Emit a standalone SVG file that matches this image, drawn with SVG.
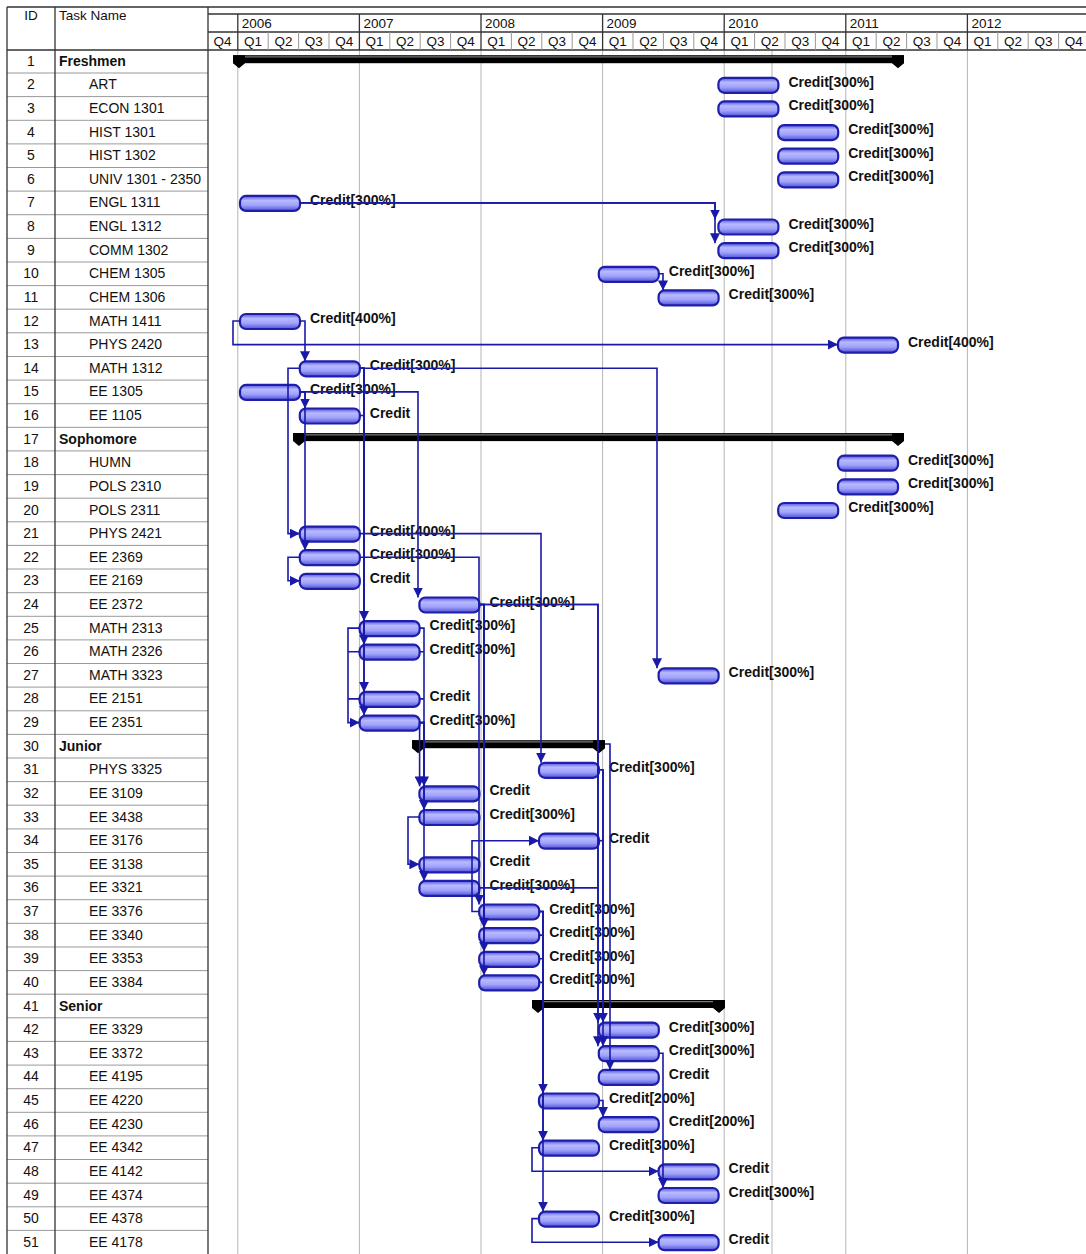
<svg xmlns="http://www.w3.org/2000/svg" width="1086" height="1254" viewBox="0 0 1086 1254">
<defs>
<linearGradient id="bg" x1="0" y1="0" x2="0" y2="1">
<stop offset="0" stop-color="#5252dc"/>
<stop offset="0.3" stop-color="#b8baff"/>
<stop offset="0.62" stop-color="#a0a3fa"/>
<stop offset="1" stop-color="#5050da"/>
</linearGradient>
<marker id="arr" markerUnits="userSpaceOnUse" markerWidth="10" markerHeight="10" viewBox="0 0 10 10" refX="10" refY="5" orient="auto">
<path d="M0,0 L10,5 L0,10 z" fill="#1a1aa8"/>
</marker>
<style>
text{font-family:"Liberation Sans",Arial,sans-serif;fill:#111}
.id{font-size:14px;text-anchor:middle}
.nm{font-size:14px}
.sm{font-size:14px;font-weight:bold}
.hd{font-size:13.5px}
.q{font-size:13.5px;text-anchor:middle}
.lbl{font-size:14px;font-weight:bold}
.bar{fill:url(#bg);stroke:#1e1eaa;stroke-width:2.2}
.sb{fill:#000}
.sh{stroke:#777;stroke-width:1.2}
.grid{stroke:#b4b4b4;stroke-width:1;fill:none}
.tl{stroke:#999;stroke-width:1;fill:none}
.tb{stroke:#333;stroke-width:1.3;fill:none}
.conn path{fill:none;stroke:#1a1aa8;stroke-width:1.6}
.conn path.a{marker-end:url(#arr)}
</style>
</defs>
<rect width="1086" height="1254" fill="#fff"/>

<g id="chart-grid">
<path class="grid" d="M237.8,50V1254M359.4,50V1254M481,50V1254M602.6,50V1254M724.2,50V1254M845.8,50V1254M967.4,50V1254M772,50V1254"/>
</g>

<g id="table-grid">
<path class="tl" d="M7,73H208M7,96.6H208M7,120.3H208M7,143.9H208M7,167.5H208M7,191.1H208M7,214.7H208M7,238.4H208M7,262H208M7,285.6H208M7,309.2H208M7,332.8H208M7,356.5H208M7,380.1H208M7,403.7H208M7,427.3H208M7,450.9H208M7,474.6H208M7,498.2H208M7,521.8H208M7,545.4H208M7,569H208M7,592.7H208M7,616.3H208M7,639.9H208M7,663.5H208M7,687.1H208M7,710.8H208M7,734.4H208M7,758H208M7,781.6H208M7,805.2H208M7,828.9H208M7,852.5H208M7,876.1H208M7,899.7H208M7,923.3H208M7,947H208M7,970.6H208M7,994.2H208M7,1017.8H208M7,1041.4H208M7,1065.1H208M7,1088.7H208M7,1112.3H208M7,1135.9H208M7,1159.5H208M7,1183.2H208M7,1206.8H208M7,1230.4H208"/>
<path class="tb" d="M7,7V1254M55,7V1254M208,7V1254M7,7H1086M7,50H1086M208,14H1086M208,32H1086"/>
</g>

<g id="header">
<text class="hd" x="31" y="20" text-anchor="middle">ID</text>
<text class="hd" x="59" y="20">Task Name</text>
<path class="tb" d="M237.8,14V50M359.4,14V50M481,14V50M602.6,14V50M724.2,14V50M845.8,14V50M967.4,14V50"/>
<path class="tl" stroke="#333" d="M268.2,32V50M298.6,32V50M329,32V50M389.8,32V50M420.2,32V50M450.6,32V50M511.4,32V50M541.8,32V50M572.2,32V50M633,32V50M663.4,32V50M693.8,32V50M754.6,32V50M785,32V50M815.4,32V50M876.2,32V50M906.6,32V50M937,32V50M997.8,32V50M1028.2,32V50M1058.6,32V50"/>
<text class="hd" x="241.8" y="28">2006</text>
<text class="hd" x="363.4" y="28">2007</text>
<text class="hd" x="485" y="28">2008</text>
<text class="hd" x="606.6" y="28">2009</text>
<text class="hd" x="728.2" y="28">2010</text>
<text class="hd" x="849.8" y="28">2011</text>
<text class="hd" x="971.4" y="28">2012</text>
<text class="q" x="222.6" y="46">Q4</text>
<text class="q" x="253" y="46">Q1</text><text class="q" x="283.4" y="46">Q2</text><text class="q" x="313.8" y="46">Q3</text><text class="q" x="344.2" y="46">Q4</text>
<text class="q" x="374.6" y="46">Q1</text><text class="q" x="405" y="46">Q2</text><text class="q" x="435.4" y="46">Q3</text><text class="q" x="465.8" y="46">Q4</text>
<text class="q" x="496.2" y="46">Q1</text><text class="q" x="526.6" y="46">Q2</text><text class="q" x="557" y="46">Q3</text><text class="q" x="587.4" y="46">Q4</text>
<text class="q" x="617.8" y="46">Q1</text><text class="q" x="648.2" y="46">Q2</text><text class="q" x="678.6" y="46">Q3</text><text class="q" x="709" y="46">Q4</text>
<text class="q" x="739.4" y="46">Q1</text><text class="q" x="769.8" y="46">Q2</text><text class="q" x="800.2" y="46">Q3</text><text class="q" x="830.6" y="46">Q4</text>
<text class="q" x="861" y="46">Q1</text><text class="q" x="891.4" y="46">Q2</text><text class="q" x="921.8" y="46">Q3</text><text class="q" x="952.2" y="46">Q4</text>
<text class="q" x="982.6" y="46">Q1</text><text class="q" x="1013" y="46">Q2</text><text class="q" x="1043.4" y="46">Q3</text><text class="q" x="1073.8" y="46">Q4</text>
</g>

<g id="task-1" transform="translate(0,61.2)"><text class="id" y="4.5" x="31">1</text><text class="sm" x="59" y="4.5">Freshmen</text>
<rect class="sb" x="233" y="-6" width="671" height="8"/><path class="sh" d="M245,-4.3H892"/><path class="sb" d="M233,-6H245V2L239,7L233,2z M892,-6H904V2L898,7L892,2z"/></g>
<g id="task-2" transform="translate(0,84.8)"><text class="id" y="4.5" x="31">2</text><text class="nm" x="89" y="4.5">ART</text><rect class="bar" x="718.4" y="-7" width="60" height="15" rx="6"/><text class="lbl" x="788.4" y="2">Credit[300%]</text></g>
<g id="task-3" transform="translate(0,108.4)"><text class="id" y="4.5" x="31">3</text><text class="nm" x="89" y="4.5">ECON 1301</text><rect class="bar" x="718.4" y="-7" width="60" height="15" rx="6"/><text class="lbl" x="788.4" y="2">Credit[300%]</text></g>
<g id="task-4" transform="translate(0,132.1)"><text class="id" y="4.5" x="31">4</text><text class="nm" x="89" y="4.5">HIST 1301</text><rect class="bar" x="778.2" y="-7" width="60" height="15" rx="6"/><text class="lbl" x="848.2" y="2">Credit[300%]</text></g>
<g id="task-5" transform="translate(0,155.7)"><text class="id" y="4.5" x="31">5</text><text class="nm" x="89" y="4.5">HIST 1302</text><rect class="bar" x="778.2" y="-7" width="60" height="15" rx="6"/><text class="lbl" x="848.2" y="2">Credit[300%]</text></g>
<g id="task-6" transform="translate(0,179.3)"><text class="id" y="4.5" x="31">6</text><text class="nm" x="89" y="4.5">UNIV 1301 - 2350</text><rect class="bar" x="778.2" y="-7" width="60" height="15" rx="6"/><text class="lbl" x="848.2" y="2">Credit[300%]</text></g>
<g id="task-7" transform="translate(0,202.9)"><text class="id" y="4.5" x="31">7</text><text class="nm" x="89" y="4.5">ENGL 1311</text><rect class="bar" x="240" y="-7" width="60" height="15" rx="6"/><text class="lbl" x="310" y="2">Credit[300%]</text></g>
<g id="task-8" transform="translate(0,226.5)"><text class="id" y="4.5" x="31">8</text><text class="nm" x="89" y="4.5">ENGL 1312</text><rect class="bar" x="718.4" y="-7" width="60" height="15" rx="6"/><text class="lbl" x="788.4" y="2">Credit[300%]</text></g>
<g id="task-9" transform="translate(0,250.2)"><text class="id" y="4.5" x="31">9</text><text class="nm" x="89" y="4.5">COMM 1302</text><rect class="bar" x="718.4" y="-7" width="60" height="15" rx="6"/><text class="lbl" x="788.4" y="2">Credit[300%]</text></g>
<g id="task-10" transform="translate(0,273.8)"><text class="id" y="4.5" x="31">10</text><text class="nm" x="89" y="4.5">CHEM 1305</text><rect class="bar" x="598.8" y="-7" width="60" height="15" rx="6"/><text class="lbl" x="668.8" y="2">Credit[300%]</text></g>
<g id="task-11" transform="translate(0,297.4)"><text class="id" y="4.5" x="31">11</text><text class="nm" x="89" y="4.5">CHEM 1306</text><rect class="bar" x="658.6" y="-7" width="60" height="15" rx="6"/><text class="lbl" x="728.6" y="2">Credit[300%]</text></g>
<g id="task-12" transform="translate(0,321)"><text class="id" y="4.5" x="31">12</text><text class="nm" x="89" y="4.5">MATH 1411</text><rect class="bar" x="240" y="-7" width="60" height="15" rx="6"/><text class="lbl" x="310" y="2">Credit[400%]</text></g>
<g id="task-13" transform="translate(0,344.6)"><text class="id" y="4.5" x="31">13</text><text class="nm" x="89" y="4.5">PHYS 2420</text><rect class="bar" x="838" y="-7" width="60" height="15" rx="6"/><text class="lbl" x="908" y="2">Credit[400%]</text></g>
<g id="task-14" transform="translate(0,368.3)"><text class="id" y="4.5" x="31">14</text><text class="nm" x="89" y="4.5">MATH 1312</text><rect class="bar" x="299.8" y="-7" width="60" height="15" rx="6"/><text class="lbl" x="369.8" y="2">Credit[300%]</text></g>
<g id="task-15" transform="translate(0,391.9)"><text class="id" y="4.5" x="31">15</text><text class="nm" x="89" y="4.5">EE 1305</text><rect class="bar" x="240" y="-7" width="60" height="15" rx="6"/><text class="lbl" x="310" y="2">Credit[300%]</text></g>
<g id="task-16" transform="translate(0,415.5)"><text class="id" y="4.5" x="31">16</text><text class="nm" x="89" y="4.5">EE 1105</text><rect class="bar" x="299.8" y="-7" width="60" height="15" rx="6"/><text class="lbl" x="369.8" y="2">Credit</text></g>
<g id="task-17" transform="translate(0,439.1)"><text class="id" y="4.5" x="31">17</text><text class="sm" x="59" y="4.5">Sophomore</text>
<rect class="sb" x="293" y="-6" width="611" height="8"/><path class="sh" d="M305,-4.3H892"/><path class="sb" d="M293,-6H305V2L299,7L293,2z M892,-6H904V2L898,7L892,2z"/></g>
<g id="task-18" transform="translate(0,462.7)"><text class="id" y="4.5" x="31">18</text><text class="nm" x="89" y="4.5">HUMN</text><rect class="bar" x="838" y="-7" width="60" height="15" rx="6"/><text class="lbl" x="908" y="2">Credit[300%]</text></g>
<g id="task-19" transform="translate(0,486.4)"><text class="id" y="4.5" x="31">19</text><text class="nm" x="89" y="4.5">POLS 2310</text><rect class="bar" x="838" y="-7" width="60" height="15" rx="6"/><text class="lbl" x="908" y="2">Credit[300%]</text></g>
<g id="task-20" transform="translate(0,510)"><text class="id" y="4.5" x="31">20</text><text class="nm" x="89" y="4.5">POLS 2311</text><rect class="bar" x="778.2" y="-7" width="60" height="15" rx="6"/><text class="lbl" x="848.2" y="2">Credit[300%]</text></g>
<g id="task-21" transform="translate(0,533.6)"><text class="id" y="4.5" x="31">21</text><text class="nm" x="89" y="4.5">PHYS 2421</text><rect class="bar" x="299.8" y="-7" width="60" height="15" rx="6"/><text class="lbl" x="369.8" y="2">Credit[400%]</text></g>
<g id="task-22" transform="translate(0,557.2)"><text class="id" y="4.5" x="31">22</text><text class="nm" x="89" y="4.5">EE 2369</text><rect class="bar" x="299.8" y="-7" width="60" height="15" rx="6"/><text class="lbl" x="369.8" y="2">Credit[300%]</text></g>
<g id="task-23" transform="translate(0,580.8)"><text class="id" y="4.5" x="31">23</text><text class="nm" x="89" y="4.5">EE 2169</text><rect class="bar" x="299.8" y="-7" width="60" height="15" rx="6"/><text class="lbl" x="369.8" y="2">Credit</text></g>
<g id="task-24" transform="translate(0,604.5)"><text class="id" y="4.5" x="31">24</text><text class="nm" x="89" y="4.5">EE 2372</text><rect class="bar" x="419.4" y="-7" width="60" height="15" rx="6"/><text class="lbl" x="489.4" y="2">Credit[300%]</text></g>
<g id="task-25" transform="translate(0,628.1)"><text class="id" y="4.5" x="31">25</text><text class="nm" x="89" y="4.5">MATH 2313</text><rect class="bar" x="359.6" y="-7" width="60" height="15" rx="6"/><text class="lbl" x="429.6" y="2">Credit[300%]</text></g>
<g id="task-26" transform="translate(0,651.7)"><text class="id" y="4.5" x="31">26</text><text class="nm" x="89" y="4.5">MATH 2326</text><rect class="bar" x="359.6" y="-7" width="60" height="15" rx="6"/><text class="lbl" x="429.6" y="2">Credit[300%]</text></g>
<g id="task-27" transform="translate(0,675.3)"><text class="id" y="4.5" x="31">27</text><text class="nm" x="89" y="4.5">MATH 3323</text><rect class="bar" x="658.6" y="-7" width="60" height="15" rx="6"/><text class="lbl" x="728.6" y="2">Credit[300%]</text></g>
<g id="task-28" transform="translate(0,698.9)"><text class="id" y="4.5" x="31">28</text><text class="nm" x="89" y="4.5">EE 2151</text><rect class="bar" x="359.6" y="-7" width="60" height="15" rx="6"/><text class="lbl" x="429.6" y="2">Credit</text></g>
<g id="task-29" transform="translate(0,722.6)"><text class="id" y="4.5" x="31">29</text><text class="nm" x="89" y="4.5">EE 2351</text><rect class="bar" x="359.6" y="-7" width="60" height="15" rx="6"/><text class="lbl" x="429.6" y="2">Credit[300%]</text></g>
<g id="task-30" transform="translate(0,746.2)"><text class="id" y="4.5" x="31">30</text><text class="sm" x="59" y="4.5">Junior</text>
<rect class="sb" x="412" y="-6" width="193" height="8"/><path class="sh" d="M424,-4.3H593"/><path class="sb" d="M412,-6H424V2L418,7L412,2z M593,-6H605V2L599,7L593,2z"/></g>
<g id="task-31" transform="translate(0,769.8)"><text class="id" y="4.5" x="31">31</text><text class="nm" x="89" y="4.5">PHYS 3325</text><rect class="bar" x="539" y="-7" width="60" height="15" rx="6"/><text class="lbl" x="609" y="2">Credit[300%]</text></g>
<g id="task-32" transform="translate(0,793.4)"><text class="id" y="4.5" x="31">32</text><text class="nm" x="89" y="4.5">EE 3109</text><rect class="bar" x="419.4" y="-7" width="60" height="15" rx="6"/><text class="lbl" x="489.4" y="2">Credit</text></g>
<g id="task-33" transform="translate(0,817)"><text class="id" y="4.5" x="31">33</text><text class="nm" x="89" y="4.5">EE 3438</text><rect class="bar" x="419.4" y="-7" width="60" height="15" rx="6"/><text class="lbl" x="489.4" y="2">Credit[300%]</text></g>
<g id="task-34" transform="translate(0,840.7)"><text class="id" y="4.5" x="31">34</text><text class="nm" x="89" y="4.5">EE 3176</text><rect class="bar" x="539" y="-7" width="60" height="15" rx="6"/><text class="lbl" x="609" y="2">Credit</text></g>
<g id="task-35" transform="translate(0,864.3)"><text class="id" y="4.5" x="31">35</text><text class="nm" x="89" y="4.5">EE 3138</text><rect class="bar" x="419.4" y="-7" width="60" height="15" rx="6"/><text class="lbl" x="489.4" y="2">Credit</text></g>
<g id="task-36" transform="translate(0,887.9)"><text class="id" y="4.5" x="31">36</text><text class="nm" x="89" y="4.5">EE 3321</text><rect class="bar" x="419.4" y="-7" width="60" height="15" rx="6"/><text class="lbl" x="489.4" y="2">Credit[300%]</text></g>
<g id="task-37" transform="translate(0,911.5)"><text class="id" y="4.5" x="31">37</text><text class="nm" x="89" y="4.5">EE 3376</text><rect class="bar" x="479.2" y="-7" width="60" height="15" rx="6"/><text class="lbl" x="549.2" y="2">Credit[300%]</text></g>
<g id="task-38" transform="translate(0,935.1)"><text class="id" y="4.5" x="31">38</text><text class="nm" x="89" y="4.5">EE 3340</text><rect class="bar" x="479.2" y="-7" width="60" height="15" rx="6"/><text class="lbl" x="549.2" y="2">Credit[300%]</text></g>
<g id="task-39" transform="translate(0,958.8)"><text class="id" y="4.5" x="31">39</text><text class="nm" x="89" y="4.5">EE 3353</text><rect class="bar" x="479.2" y="-7" width="60" height="15" rx="6"/><text class="lbl" x="549.2" y="2">Credit[300%]</text></g>
<g id="task-40" transform="translate(0,982.4)"><text class="id" y="4.5" x="31">40</text><text class="nm" x="89" y="4.5">EE 3384</text><rect class="bar" x="479.2" y="-7" width="60" height="15" rx="6"/><text class="lbl" x="549.2" y="2">Credit[300%]</text></g>
<g id="task-41" transform="translate(0,1006)"><text class="id" y="4.5" x="31">41</text><text class="sm" x="59" y="4.5">Senior</text>
<rect class="sb" x="532" y="-6" width="193" height="8"/><path class="sh" d="M544,-4.3H713"/><path class="sb" d="M532,-6H544V2L538,7L532,2z M713,-6H725V2L719,7L713,2z"/></g>
<g id="task-42" transform="translate(0,1029.6)"><text class="id" y="4.5" x="31">42</text><text class="nm" x="89" y="4.5">EE 3329</text><rect class="bar" x="598.8" y="-7" width="60" height="15" rx="6"/><text class="lbl" x="668.8" y="2">Credit[300%]</text></g>
<g id="task-43" transform="translate(0,1053.2)"><text class="id" y="4.5" x="31">43</text><text class="nm" x="89" y="4.5">EE 3372</text><rect class="bar" x="598.8" y="-7" width="60" height="15" rx="6"/><text class="lbl" x="668.8" y="2">Credit[300%]</text></g>
<g id="task-44" transform="translate(0,1076.9)"><text class="id" y="4.5" x="31">44</text><text class="nm" x="89" y="4.5">EE 4195</text><rect class="bar" x="598.8" y="-7" width="60" height="15" rx="6"/><text class="lbl" x="668.8" y="2">Credit</text></g>
<g id="task-45" transform="translate(0,1100.5)"><text class="id" y="4.5" x="31">45</text><text class="nm" x="89" y="4.5">EE 4220</text><rect class="bar" x="539" y="-7" width="60" height="15" rx="6"/><text class="lbl" x="609" y="2">Credit[200%]</text></g>
<g id="task-46" transform="translate(0,1124.1)"><text class="id" y="4.5" x="31">46</text><text class="nm" x="89" y="4.5">EE 4230</text><rect class="bar" x="598.8" y="-7" width="60" height="15" rx="6"/><text class="lbl" x="668.8" y="2">Credit[200%]</text></g>
<g id="task-47" transform="translate(0,1147.7)"><text class="id" y="4.5" x="31">47</text><text class="nm" x="89" y="4.5">EE 4342</text><rect class="bar" x="539" y="-7" width="60" height="15" rx="6"/><text class="lbl" x="609" y="2">Credit[300%]</text></g>
<g id="task-48" transform="translate(0,1171.3)"><text class="id" y="4.5" x="31">48</text><text class="nm" x="89" y="4.5">EE 4142</text><rect class="bar" x="658.6" y="-7" width="60" height="15" rx="6"/><text class="lbl" x="728.6" y="2">Credit</text></g>
<g id="task-49" transform="translate(0,1195)"><text class="id" y="4.5" x="31">49</text><text class="nm" x="89" y="4.5">EE 4374</text><rect class="bar" x="658.6" y="-7" width="60" height="15" rx="6"/><text class="lbl" x="728.6" y="2">Credit[300%]</text></g>
<g id="task-50" transform="translate(0,1218.6)"><text class="id" y="4.5" x="31">50</text><text class="nm" x="89" y="4.5">EE 4378</text><rect class="bar" x="539" y="-7" width="60" height="15" rx="6"/><text class="lbl" x="609" y="2">Credit[300%]</text></g>
<g id="task-51" transform="translate(0,1242.2)"><text class="id" y="4.5" x="31">51</text><text class="nm" x="89" y="4.5">EE 4178</text><rect class="bar" x="658.6" y="-7" width="60" height="15" rx="6"/><text class="lbl" x="728.6" y="2">Credit</text></g>

<g id="connectors" class="conn">
<path class="a" d="M300,202.9H715V219.5"/>
<path class="a" d="M300,202.9H715V243.2"/>
<path class="a" d="M658.8,273.8H663V290.4"/>
<path class="a" d="M240,321H233V344.6H838"/>
<path class="a" d="M300,321H305V361.3"/>
<path class="a" d="M359.8,368.3H657V668.3"/>
<path class="a" d="M299.8,368.3H288V533.6H299.8"/>
<path class="a" d="M300,391.9H305V408.5"/>
<path class="a" d="M300,391.9H305V550.2"/>
<path class="a" d="M300,391.9H418V597.5"/>
<path class="a" d="M359.8,368.3H364V621.1"/>
<path class="a" d="M359.8,368.3H364V644.7"/>
<path class="a" d="M359.8,368.3H364V691.9"/>
<path class="a" d="M359.8,368.3H364V715.6"/>
<path d="M359.8,415.5H364"/>
<path class="a" d="M299.8,557.2H288V580.8H299.8"/>
<path class="a" d="M359.8,533.6H541V762.8"/>
<path class="a" d="M359.8,557.2H479V904.5"/>
<path class="a" d="M479.4,604.5H484V928.1"/>
<path class="a" d="M479.4,604.5H484V951.8"/>
<path class="a" d="M479.4,604.5H484V975.4"/>
<path class="a" d="M479.4,604.5H598V1022.6"/>
<path class="a" d="M479.4,604.5H598V1046.2"/>
<path class="a" d="M359.6,628.1H348V722.6H359.6"/>
<path d="M359.6,651.7H348M359.6,698.9H348"/>
<path d="M419.6,628.1H424V722.6M419.6,651.7H424M419.6,698.9H424"/>
<path class="a" d="M419.6,722.6H424V786.4"/>
<path class="a" d="M419.6,722.6H424V810"/>
<path class="a" d="M419.6,722.6H424V880.9"/>
<path class="a" d="M419.6,722.6V786.4"/>
<path class="a" d="M419.4,817H408V864.3H419.4"/>
<path class="a" d="M479.2,911.5H472V840.7H539"/>
<path d="M479.4,887.9H598"/>
<path class="a" d="M599,769.8H603V1022.6"/>
<path class="a" d="M599,769.8H603V1046.2"/>
<path d="M599,840.7H603"/>
<path class="a" d="M605,744H610V1069.9"/>
<path class="a" d="M539.2,911.5H543V1093.5"/>
<path class="a" d="M539.2,911.5H543V1140.7"/>
<path class="a" d="M539.2,911.5H543V1211.6"/>
<path d="M539.2,935.1H543M539.2,958.8H543M539.2,982.4H543"/>
<path class="a" d="M599,1100.5H603V1117.1"/>
<path class="a" d="M539,1147.7H532V1171.3H658.6"/>
<path class="a" d="M539,1218.6H532V1242.2H658.6"/>
<path class="a" d="M658.8,1053.2H663V1188"/>
</g>
</svg>
